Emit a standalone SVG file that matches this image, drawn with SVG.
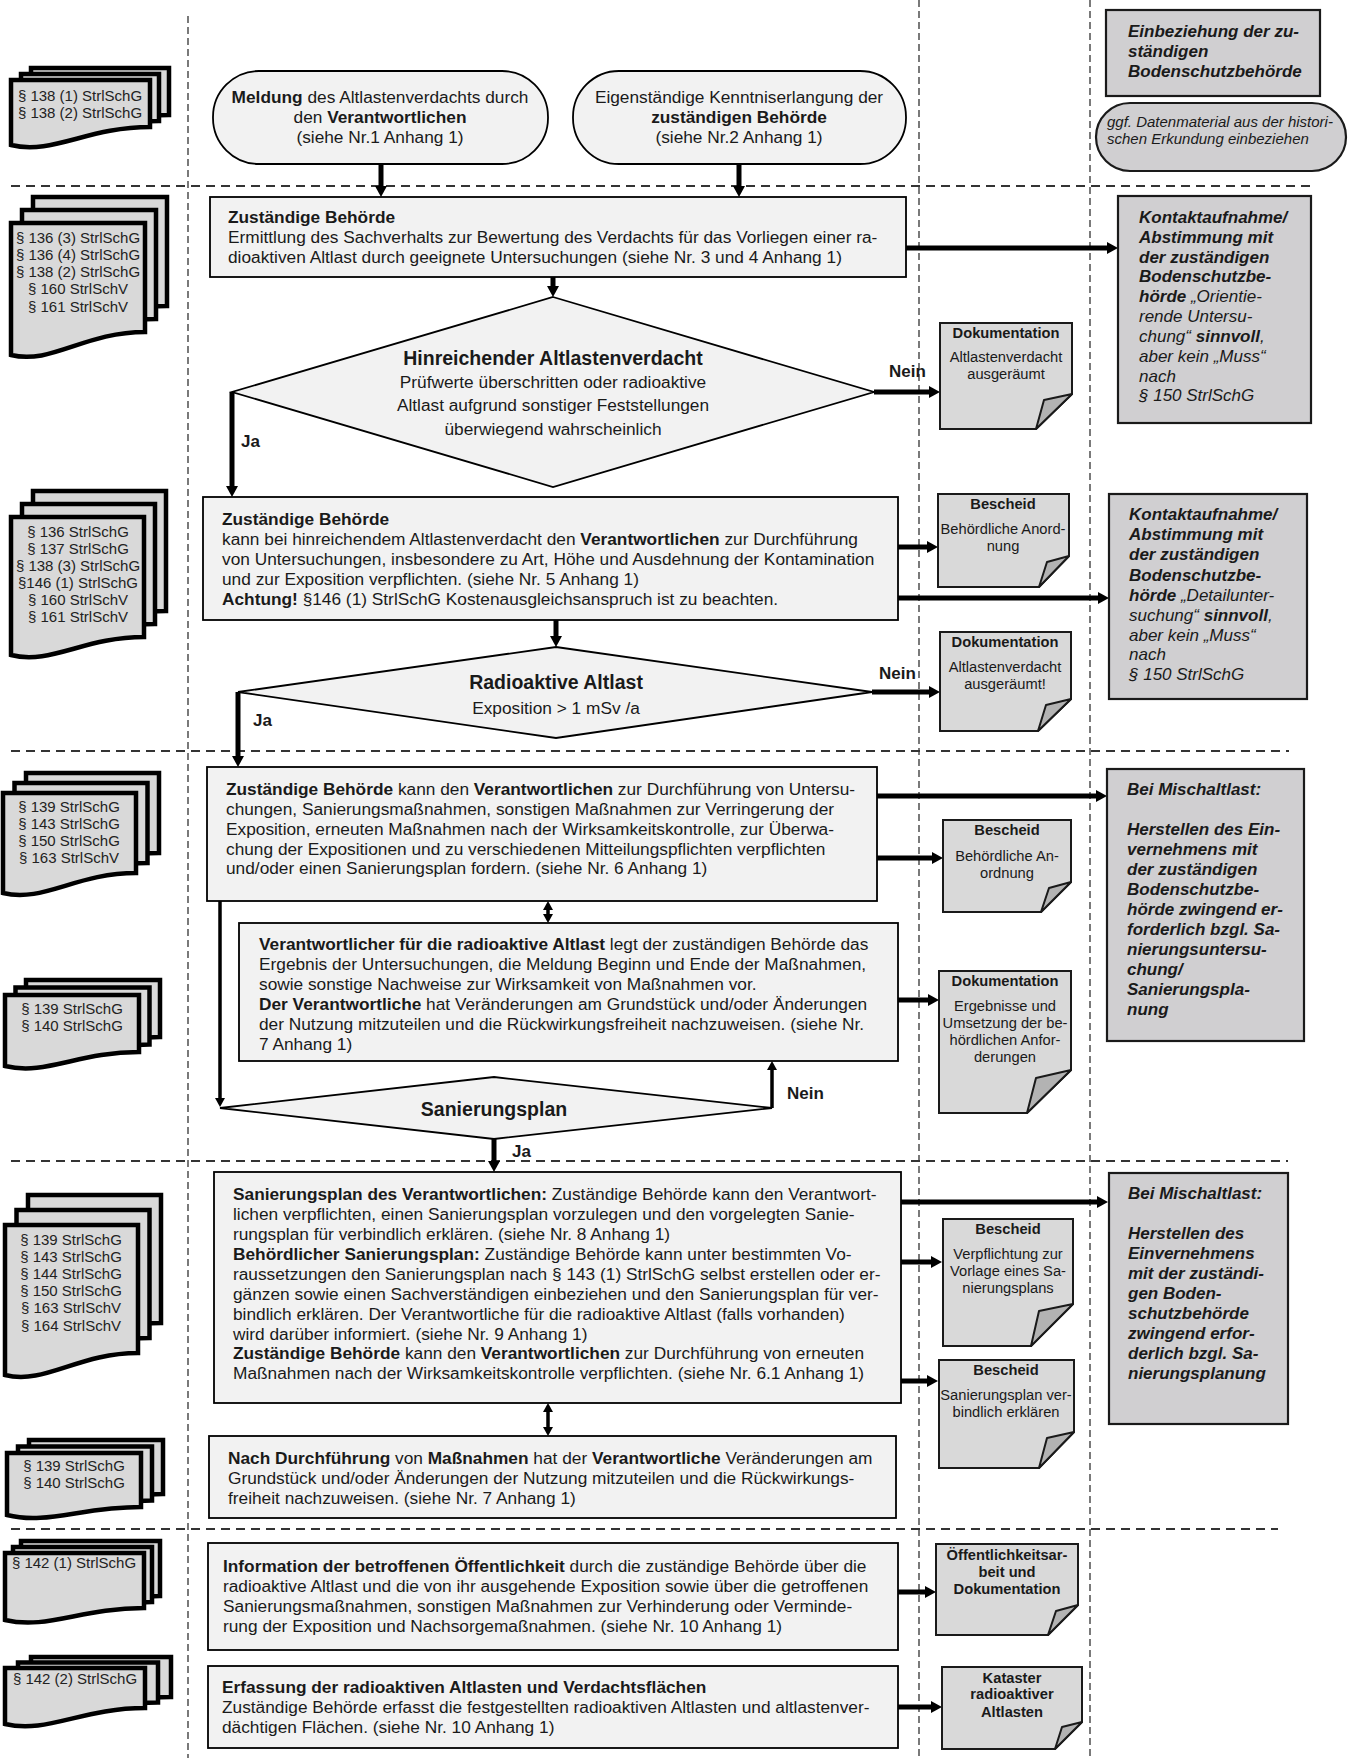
<svg xmlns="http://www.w3.org/2000/svg" width="1351" height="1758" viewBox="0 0 1351 1758">
<style>
text{font-family:"Liberation Sans",Arial,sans-serif;fill:#1a1a1a}
.t{font-size:17.3px}
.k{font-size:17px}
.b{font-weight:bold}
.i{font-style:italic}
.bi{font-weight:bold;font-style:italic}
.n{font-size:14.7px;text-anchor:middle}
.law{font-size:15px;text-anchor:middle;fill:#222}
.c{text-anchor:middle}
.box{fill:#f2f2f2;stroke:#000;stroke-width:1.8}
.gbox{fill:#d0cfd1;stroke:#1a1a1a;stroke-width:2.2}
.note{fill:#d9d9d9;stroke:#1a1a1a;stroke-width:2}
.fold{fill:#b3b3b3;stroke:#1a1a1a;stroke-width:2;stroke-linejoin:round}
.sheet{fill:#d9d9d9;stroke:#000;stroke-width:4.5}
.vd{stroke:#333;stroke-width:1.3;stroke-dasharray:7 4;fill:none}
.hd{stroke:#333;stroke-width:1.8;stroke-dasharray:9 6;fill:none}
.ar{stroke:#000;stroke-width:5;fill:none;marker-end:url(#ah)}
.ar2{stroke:#000;stroke-width:3.5;fill:none;marker-end:url(#ah2)}
.dbl{stroke:#000;stroke-width:3.5;fill:none;marker-start:url(#ah2);marker-end:url(#ah2)}
</style>
<defs>
<marker id="ah" markerUnits="userSpaceOnUse" markerWidth="12" markerHeight="14" refX="3" refY="7" orient="auto"><path d="M0,1 L11,7 L0,13 Z" fill="#000"/></marker>
<marker id="ah2" markerUnits="userSpaceOnUse" markerWidth="10" markerHeight="12" refX="3" refY="6" orient="auto-start-reverse"><path d="M0,1 L9,6 L0,11 Z" fill="#000"/></marker>
</defs>
<rect width="1351" height="1758" fill="#fff"/>

<g id="swimlanes">
<line class="vd" x1="188" y1="16" x2="188" y2="1758"/>
<line class="vd" x1="919" y1="0" x2="919" y2="1758"/>
<line class="vd" x1="1090" y1="0" x2="1090" y2="1758"/>
<line class="hd" x1="11" y1="186" x2="1311" y2="186"/>
<line class="hd" x1="11" y1="751" x2="1289" y2="751"/>
<line class="hd" x1="11" y1="1161" x2="1288" y2="1161"/>
<line class="hd" x1="11" y1="1529" x2="1278" y2="1529"/>
</g>

<g id="law1">
<path class="sheet" d="M31,68 H169 V115 C107.5,115 72.7,143 31,133 Z"/>
<path class="sheet" d="M21,74 H159 V121 C97.5,121 62.7,149 21,139 Z"/>
<path class="sheet" d="M11,80 H150 V127 C87.5,127 52.7,155 11,145 Z"/>
<text class="law" x="80" y="101">§ 138 (1) StrlSchG</text>
<text class="law" x="80" y="118">§ 138 (2) StrlSchG</text>
</g>
<g id="law2">
<path class="sheet" d="M33,197 H167 V306 C106.7,306 73.2,339 33,329 Z"/>
<path class="sheet" d="M22,210 H156 V319 C95.7,319 62.2,352 22,342 Z"/>
<path class="sheet" d="M11,223 H145 V332 C84.7,332 51.2,365 11,355 Z"/>
<text class="law" x="78" y="243">§ 136 (3) StrlSchG</text>
<text class="law" x="78" y="260">§ 136 (4) StrlSchG</text>
<text class="law" x="78" y="277">§ 138 (2) StrlSchG</text>
<text class="law" x="78" y="294">§ 160 StrlSchV</text>
<text class="law" x="78" y="312">§ 161 StrlSchV</text>
</g>
<g id="law3">
<path class="sheet" d="M33,491 H166 V611 C106.2,611 72.9,639 33,629 Z"/>
<path class="sheet" d="M22,504 H155 V624 C95.2,624 61.9,652 22,642 Z"/>
<path class="sheet" d="M11,517 H144 V637 C84.2,637 50.9,665 11,655 Z"/>
<text class="law" x="78" y="537">§ 136 StrlSchG</text>
<text class="law" x="78" y="554">§ 137 StrlSchG</text>
<text class="law" x="78" y="571">§ 138 (3) StrlSchG</text>
<text class="law" x="78" y="588">§146 (1) StrlSchG</text>
<text class="law" x="78" y="605">§ 160 StrlSchV</text>
<text class="law" x="78" y="622">§ 161 StrlSchV</text>
</g>
<g id="law4">
<path class="sheet" d="M26,773 H159 V853 C99.2,853 65.9,883 26,873 Z"/>
<path class="sheet" d="M14.5,783 H147.5 V863 C87.7,863 54.4,893 14.5,883 Z"/>
<path class="sheet" d="M3,793 H136 V873 C76.2,873 42.9,903 3,893 Z"/>
<text class="law" x="69" y="812">§ 139 StrlSchG</text>
<text class="law" x="69" y="829">§ 143 StrlSchG</text>
<text class="law" x="69" y="846">§ 150 StrlSchG</text>
<text class="law" x="69" y="863">§ 163 StrlSchV</text>
</g>
<g id="law5">
<path class="sheet" d="M26,980 H160 V1037 C99.7,1037 66.2,1061 26,1051 Z"/>
<path class="sheet" d="M15.5,987.5 H149.5 V1044.5 C89.2,1044.5 55.7,1068.5 15.5,1058.5 Z"/>
<path class="sheet" d="M5,995 H139 V1052 C78.7,1052 45.2,1076 5,1066 Z"/>
<text class="law" x="72" y="1014">§ 139 StrlSchG</text>
<text class="law" x="72" y="1031">§ 140 StrlSchG</text>
</g>
<g id="law6">
<path class="sheet" d="M28,1195 H161 V1323 C101.2,1323 67.9,1355 28,1345 Z"/>
<path class="sheet" d="M16.5,1210 H149.5 V1338 C89.7,1338 56.4,1370 16.5,1360 Z"/>
<path class="sheet" d="M5,1225 H138 V1353 C78.2,1353 44.9,1385 5,1375 Z"/>
<text class="law" x="71" y="1245">§ 139 StrlSchG</text>
<text class="law" x="71" y="1262">§ 143 StrlSchG</text>
<text class="law" x="71" y="1279">§ 144 StrlSchG</text>
<text class="law" x="71" y="1296">§ 150 StrlSchG</text>
<text class="law" x="71" y="1313">§ 163 StrlSchV</text>
<text class="law" x="71" y="1331">§ 164 StrlSchV</text>
</g>
<g id="law7">
<path class="sheet" d="M29,1440 H163 V1494 C102.7,1494 69.2,1512 29,1502 Z"/>
<path class="sheet" d="M18,1446.5 H152 V1500.5 C91.7,1500.5 58.2,1518.5 18,1508.5 Z"/>
<path class="sheet" d="M7,1453 H141 V1507 C80.7,1507 47.2,1525 7,1515 Z"/>
<text class="law" x="74" y="1471">§ 139 StrlSchG</text>
<text class="law" x="74" y="1488">§ 140 StrlSchG</text>
</g>
<g id="law8">
<path class="sheet" d="M21,1541 H160 V1596 C97.5,1596 62.7,1618 21,1608 Z"/>
<path class="sheet" d="M13,1547 H152 V1602 C89.5,1602 54.7,1624 13,1614 Z"/>
<path class="sheet" d="M5,1553 H144 V1608 C81.5,1608 46.7,1630 5,1620 Z"/>
<text class="law" x="74" y="1568">§ 142 (1) StrlSchG</text>
</g>
<g id="law9">
<path class="sheet" d="M31,1657 H171 V1697 C108,1697 73,1723 31,1713 Z"/>
<path class="sheet" d="M18,1662.5 H158 V1702.5 C95,1702.5 60,1728.5 18,1718.5 Z"/>
<path class="sheet" d="M5,1668 H145 V1708 C82,1708 47,1734 5,1724 Z"/>
<text class="law" x="75" y="1684">§ 142 (2) StrlSchG</text>
</g>

<g id="connectors">
<line class="ar" x1="381" y1="164" x2="381" y2="189"/>
<line class="ar" x1="739" y1="164" x2="739" y2="189"/>
<line class="ar" x1="553" y1="277" x2="553" y2="289"/>
<line class="ar" x1="906" y1="248" x2="1110" y2="248"/>
<line class="ar" x1="874" y1="392" x2="932" y2="392"/>
<path class="ar" d="M232,392 V489"/>
<line class="ar" x1="898" y1="547" x2="930" y2="547"/>
<line class="ar" x1="898" y1="598" x2="1101" y2="598"/>
<line class="ar" x1="556" y1="620" x2="556" y2="639"/>
<line class="ar" x1="872" y1="692" x2="932" y2="692"/>
<path class="ar" d="M238,692 V759"/>
<line class="ar" x1="877" y1="796" x2="1099" y2="796"/>
<line class="ar" x1="877" y1="858" x2="935" y2="858"/>
<line class="dbl" x1="548" y1="907" x2="548" y2="917"/>
<line class="ar" x1="898" y1="1000" x2="931" y2="1000"/>
<path class="ar2" d="M220,901 V1101"/>
<path class="ar2" d="M772,1108 V1067"/>
<path class="ar" d="M494,1139 V1164"/>
<line class="ar" x1="901" y1="1202" x2="1100" y2="1202"/>
<line class="ar" x1="901" y1="1262" x2="934" y2="1262"/>
<line class="ar" x1="901" y1="1381" x2="930" y2="1381"/>
<line class="dbl" x1="548" y1="1409" x2="548" y2="1430"/>
<line class="ar" x1="898" y1="1592" x2="928" y2="1592"/>
<line class="ar" x1="898" y1="1707" x2="934" y2="1707"/>
<text class="k b" x="889" y="377">Nein</text>
<text class="k b" x="241" y="447">Ja</text>
<text class="k b" x="879" y="679">Nein</text>
<text class="k b" x="253" y="726">Ja</text>
<text class="k b" x="787" y="1099">Nein</text>
<text class="k b" x="512" y="1157">Ja</text>
</g>

<g id="start1">
<rect class="box" x="213" y="71" width="335" height="93" rx="46" ry="46"/>
<text class="t c" x="380" y="103"><tspan class="b">Meldung</tspan> des Altlastenverdachts durch</text>
<text class="t c" x="380" y="123">den <tspan class="b">Verantwortlichen</tspan></text>
<text class="t c" x="380" y="143">(siehe Nr.1 Anhang 1)</text>
</g>
<g id="start2">
<rect class="box" x="573" y="71" width="333" height="93" rx="46" ry="46"/>
<text class="t c" x="739" y="103">Eigenständige Kenntniserlangung der</text>
<text class="t c b" x="739" y="123">zuständigen Behörde</text>
<text class="t c" x="739" y="143">(siehe Nr.2 Anhang 1)</text>
</g>

<g id="einbeziehung">
<rect class="gbox" x="1106" y="10" width="214" height="86"/>
<text class="k bi" x="1128" y="37">Einbeziehung der zu-</text>
<text class="k bi" x="1128" y="57">ständigen</text>
<text class="k bi" x="1128" y="77">Bodenschutzbehörde</text>
</g>
<g id="datenmaterial">
<rect class="gbox" x="1096" y="103" width="250" height="68" rx="34" ry="34"/>
<text class="i" font-size="15" x="1107" y="127">ggf. Datenmaterial aus der histori-</text>
<text class="i" font-size="15" x="1107" y="144">schen Erkundung einbeziehen</text>
</g>

<g id="ermittlung">
<rect class="box" x="210" y="197" width="696" height="80"/>
<text class="t b" x="228" y="223">Zuständige Behörde</text>
<text class="t" x="228" y="243">Ermittlung des Sachverhalts zur Bewertung des Verdachts für das Vorliegen einer ra-</text>
<text class="t" x="228" y="263">dioaktiven Altlast durch geeignete Untersuchungen (siehe Nr. 3 und 4 Anhang 1)</text>
</g>

<g id="kontakt1">
<rect class="gbox" x="1118" y="196" width="193" height="227"/>
<text class="k bi" x="1139" y="223">Kontaktaufnahme/</text>
<text class="k bi" x="1139" y="243">Abstimmung mit</text>
<text class="k bi" x="1139" y="263">der zuständigen</text>
<text class="k bi" x="1139" y="282">Bodenschutzbe-</text>
<text class="k i" x="1139" y="302"><tspan class="b">hörde</tspan> „Orientie-</text>
<text class="k i" x="1139" y="322">rende Untersu-</text>
<text class="k i" x="1139" y="342">chung“ <tspan class="b">sinnvoll</tspan>,</text>
<text class="k i" x="1139" y="362">aber kein „Muss“</text>
<text class="k i" x="1139" y="382">nach</text>
<text class="k i" x="1139" y="401">§ 150 StrlSchG</text>
</g>

<g id="verdacht">
<polygon class="box" points="553,297 874,392 553,487 232,392"/>
<text class="c b" font-size="19.5" x="553" y="365">Hinreichender Altlastenverdacht</text>
<text class="t c" x="553" y="388">Prüfwerte überschritten oder radioaktive</text>
<text class="t c" x="553" y="411">Altlast aufgrund sonstiger Feststellungen</text>
<text class="t c" x="553" y="435">überwiegend wahrscheinlich</text>
</g>

<g id="doku1">
<path class="note" d="M940,323 H1072 V394 L1036,429 H940 Z"/>
<path class="fold" d="M1072,394 L1036,429 L1044,400 Z"/>
<text class="n b" x="1006" y="338">Dokumentation</text>
<text class="n" x="1006" y="362">Altlastenverdacht</text>
<text class="n" x="1006" y="379">ausgeräumt</text>
</g>

<g id="untersuchung">
<rect class="box" x="203" y="497" width="695" height="123"/>
<text class="t b" x="222" y="525">Zuständige Behörde</text>
<text class="t" x="222" y="545">kann bei hinreichendem Altlastenverdacht den <tspan class="b">Verantwortlichen</tspan> zur Durchführung</text>
<text class="t" x="222" y="565">von Untersuchungen, insbesondere zu Art, Höhe und Ausdehnung der Kontamination</text>
<text class="t" x="222" y="585">und zur Exposition verpflichten. (siehe Nr. 5 Anhang 1)</text>
<text class="t" x="222" y="605"><tspan class="b">Achtung!</tspan> §146 (1) StrlSchG Kostenausgleichsanspruch ist zu beachten.</text>
</g>

<g id="bescheid1">
<path class="note" d="M938,494 H1069 V556 L1039,587 H938 Z"/>
<path class="fold" d="M1069,556 L1039,587 L1047,562 Z"/>
<text class="n b" x="1003" y="509">Bescheid</text>
<text class="n" x="1003" y="534">Behördliche Anord-</text>
<text class="n" x="1003" y="551">nung</text>
</g>

<g id="kontakt2">
<rect class="gbox" x="1109" y="494" width="198" height="205"/>
<text class="k bi" x="1129" y="520">Kontaktaufnahme/</text>
<text class="k bi" x="1129" y="540">Abstimmung mit</text>
<text class="k bi" x="1129" y="560">der zuständigen</text>
<text class="k bi" x="1129" y="581">Bodenschutzbe-</text>
<text class="k i" x="1129" y="601"><tspan class="b">hörde</tspan> „Detailunter-</text>
<text class="k i" x="1129" y="621">suchung“ <tspan class="b">sinnvoll</tspan>,</text>
<text class="k i" x="1129" y="641">aber kein „Muss“</text>
<text class="k i" x="1129" y="660">nach</text>
<text class="k i" x="1129" y="680">§ 150 StrlSchG</text>
</g>

<g id="radioaktiv">
<polygon class="box" points="556,647 872,692 556,738 238,692"/>
<text class="c b" font-size="19.5" x="556" y="689">Radioaktive Altlast</text>
<text class="t c" x="556" y="714">Exposition &gt; 1 mSv /a</text>
</g>

<g id="doku2">
<path class="note" d="M940,632 H1071 V699 L1038,731 H940 Z"/>
<path class="fold" d="M1071,699 L1038,731 L1046,705 Z"/>
<text class="n b" x="1005" y="647">Dokumentation</text>
<text class="n" x="1005" y="672">Altlastenverdacht</text>
<text class="n" x="1005" y="689">ausgeräumt!</text>
</g>

<g id="massnahmen">
<rect class="box" x="207" y="767" width="670" height="134"/>
<text class="t" x="226" y="795"><tspan class="b">Zuständige Behörde</tspan> kann den <tspan class="b">Verantwortlichen</tspan> zur Durchführung von Untersu-</text>
<text class="t" x="226" y="815">chungen, Sanierungsmaßnahmen, sonstigen Maßnahmen zur Verringerung der</text>
<text class="t" x="226" y="835">Exposition, erneuten Maßnahmen nach der Wirksamkeitskontrolle, zur Überwa-</text>
<text class="t" x="226" y="855">chung der Expositionen und zu verschiedenen Mitteilungspflichten verpflichten</text>
<text class="t" x="226" y="874">und/oder einen Sanierungsplan fordern. (siehe Nr. 6 Anhang 1)</text>
</g>

<g id="bescheid2">
<path class="note" d="M943,820 H1071 V882 L1041,912 H943 Z"/>
<path class="fold" d="M1071,882 L1041,912 L1049,888 Z"/>
<text class="n b" x="1007" y="835">Bescheid</text>
<text class="n" x="1007" y="861">Behördliche An-</text>
<text class="n" x="1007" y="878">ordnung</text>
</g>

<g id="misch1">
<rect class="gbox" x="1107" y="769" width="197" height="272"/>
<text class="k bi" x="1127" y="795">Bei Mischaltlast:</text>
<text class="k bi" x="1127" y="835">Herstellen des Ein-</text>
<text class="k bi" x="1127" y="855">vernehmens mit</text>
<text class="k bi" x="1127" y="875">der zuständigen</text>
<text class="k bi" x="1127" y="895">Bodenschutzbe-</text>
<text class="k bi" x="1127" y="915">hörde zwingend er-</text>
<text class="k bi" x="1127" y="935">forderlich bzgl. Sa-</text>
<text class="k bi" x="1127" y="955">nierungsuntersu-</text>
<text class="k bi" x="1127" y="975">chung/</text>
<text class="k bi" x="1127" y="995">Sanierungspla-</text>
<text class="k bi" x="1127" y="1015">nung</text>
</g>

<g id="nachweise">
<rect class="box" x="239" y="923" width="659" height="138"/>
<text class="t" x="259" y="950"><tspan class="b">Verantwortlicher für die radioaktive Altlast</tspan> legt der zuständigen Behörde das</text>
<text class="t" x="259" y="970">Ergebnis der Untersuchungen, die Meldung Beginn und Ende der Maßnahmen,</text>
<text class="t" x="259" y="990">sowie sonstige Nachweise zur Wirksamkeit von Maßnahmen vor.</text>
<text class="t" x="259" y="1010"><tspan class="b">Der Verantwortliche</tspan> hat Veränderungen am Grundstück und/oder Änderungen</text>
<text class="t" x="259" y="1030">der Nutzung mitzuteilen und die Rückwirkungsfreiheit nachzuweisen. (siehe Nr.</text>
<text class="t" x="259" y="1050">7 Anhang 1)</text>
</g>

<g id="doku3">
<path class="note" d="M939,971 H1071 V1070 L1027,1113 H939 Z"/>
<path class="fold" d="M1071,1070 L1027,1113 L1036,1078 Z"/>
<text class="n b" x="1005" y="986">Dokumentation</text>
<text class="n" x="1005" y="1011">Ergebnisse und</text>
<text class="n" x="1005" y="1028">Umsetzung der be-</text>
<text class="n" x="1005" y="1045">hördlichen Anfor-</text>
<text class="n" x="1005" y="1062">derungen</text>
</g>

<g id="sanierungsplan">
<polygon class="box" points="494,1077 772,1108 494,1139 220,1108"/>
<text class="c b" font-size="19.5" x="494" y="1116">Sanierungsplan</text>
</g>

<g id="sanierung">
<rect class="box" x="214" y="1172" width="687" height="231"/>
<text class="t" x="233" y="1200"><tspan class="b">Sanierungsplan des Verantwortlichen:</tspan> Zuständige Behörde kann den Verantwort-</text>
<text class="t" x="233" y="1220">lichen verpflichten, einen Sanierungsplan vorzulegen und den vorgelegten Sanie-</text>
<text class="t" x="233" y="1240">rungsplan für verbindlich erklären. (siehe Nr. 8 Anhang 1)</text>
<text class="t" x="233" y="1260"><tspan class="b">Behördlicher Sanierungsplan:</tspan> Zuständige Behörde kann unter bestimmten Vo-</text>
<text class="t" x="233" y="1280">raussetzungen den Sanierungsplan nach § 143 (1) StrlSchG selbst erstellen oder er-</text>
<text class="t" x="233" y="1300">gänzen sowie einen Sachverständigen einbeziehen und den Sanierungsplan für ver-</text>
<text class="t" x="233" y="1320">bindlich erklären. Der Verantwortliche für die radioaktive Altlast (falls vorhanden)</text>
<text class="t" x="233" y="1340">wird darüber informiert. (siehe Nr. 9 Anhang 1)</text>
<text class="t" x="233" y="1359"><tspan class="b">Zuständige Behörde</tspan> kann den <tspan class="b">Verantwortlichen</tspan> zur Durchführung von erneuten</text>
<text class="t" x="233" y="1379">Maßnahmen nach der Wirksamkeitskontrolle verpflichten. (siehe Nr. 6.1 Anhang 1)</text>
</g>

<g id="bescheid3">
<path class="note" d="M943,1219 H1073 V1304 L1031,1346 H943 Z"/>
<path class="fold" d="M1073,1304 L1031,1346 L1039,1311 Z"/>
<text class="n b" x="1008" y="1234">Bescheid</text>
<text class="n" x="1008" y="1259">Verpflichtung zur</text>
<text class="n" x="1008" y="1276">Vorlage eines Sa-</text>
<text class="n" x="1008" y="1293">nierungsplans</text>
</g>

<g id="bescheid4">
<path class="note" d="M939,1360 H1074 V1432 L1039,1468 H939 Z"/>
<path class="fold" d="M1074,1432 L1039,1468 L1047,1438 Z"/>
<text class="n b" x="1006" y="1375">Bescheid</text>
<text class="n" x="1006" y="1400">Sanierungsplan ver-</text>
<text class="n" x="1006" y="1417">bindlich erklären</text>
</g>

<g id="misch2">
<rect class="gbox" x="1109" y="1173" width="179" height="251"/>
<text class="k bi" x="1128" y="1199">Bei Mischaltlast:</text>
<text class="k bi" x="1128" y="1239">Herstellen des</text>
<text class="k bi" x="1128" y="1259">Einvernehmens</text>
<text class="k bi" x="1128" y="1279">mit der zuständi-</text>
<text class="k bi" x="1128" y="1299">gen Boden-</text>
<text class="k bi" x="1128" y="1319">schutzbehörde</text>
<text class="k bi" x="1128" y="1339">zwingend erfor-</text>
<text class="k bi" x="1128" y="1359">derlich bzgl. Sa-</text>
<text class="k bi" x="1128" y="1379">nierungsplanung</text>
</g>

<g id="nachsorge">
<rect class="box" x="209" y="1436" width="687" height="82"/>
<text class="t" x="228" y="1464"><tspan class="b">Nach Durchführung</tspan> von <tspan class="b">Maßnahmen</tspan> hat der <tspan class="b">Verantwortliche</tspan> Veränderungen am</text>
<text class="t" x="228" y="1484">Grundstück und/oder Änderungen der Nutzung mitzuteilen und die Rückwirkungs-</text>
<text class="t" x="228" y="1504">freiheit nachzuweisen. (siehe Nr. 7 Anhang 1)</text>
</g>

<g id="information">
<rect class="box" x="208" y="1543" width="690" height="107"/>
<text class="t" x="223" y="1572"><tspan class="b">Information der betroffenen Öffentlichkeit</tspan> durch die zuständige Behörde über die</text>
<text class="t" x="223" y="1592">radioaktive Altlast und die von ihr ausgehende Exposition sowie über die getroffenen</text>
<text class="t" x="223" y="1612">Sanierungsmaßnahmen, sonstigen Maßnahmen zur Verhinderung oder Verminde-</text>
<text class="t" x="223" y="1632">rung der Exposition und Nachsorgemaßnahmen. (siehe Nr. 10 Anhang 1)</text>
</g>

<g id="oeffentlichkeit">
<path class="note" d="M936,1544 H1078 V1605 L1048,1635 H936 Z"/>
<path class="fold" d="M1078,1605 L1048,1635 L1056,1611 Z"/>
<text class="n b" x="1007" y="1560">Öffentlichkeitsar-</text>
<text class="n b" x="1007" y="1577">beit und</text>
<text class="n b" x="1007" y="1594">Dokumentation</text>
</g>

<g id="erfassung">
<rect class="box" x="208" y="1666" width="690" height="82"/>
<text class="t b" x="222" y="1693">Erfassung der radioaktiven Altlasten und Verdachtsflächen</text>
<text class="t" x="222" y="1713">Zuständige Behörde erfasst die festgestellten radioaktiven Altlasten und altlastenver-</text>
<text class="t" x="222" y="1733">dächtigen Flächen. (siehe Nr. 10 Anhang 1)</text>
</g>

<g id="kataster">
<path class="note" d="M942,1667 H1082 V1722 L1055,1749 H942 Z"/>
<path class="fold" d="M1082,1722 L1055,1749 L1062,1727 Z"/>
<text class="n b" x="1012" y="1683">Kataster</text>
<text class="n b" x="1012" y="1699">radioaktiver</text>
<text class="n b" x="1012" y="1717">Altlasten</text>
</g>
</svg>
